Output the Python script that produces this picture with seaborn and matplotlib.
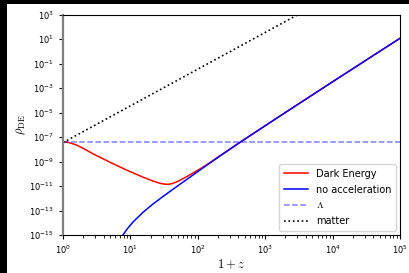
import numpy as np
import pandas as pd
import matplotlib
matplotlib.use("Agg")
import matplotlib.pyplot as plt
import seaborn as sns
from matplotlib.patches import Rectangle

plt.rcParams['mathtext.fontset'] = 'cm'
plt.rcParams['font.family'] = ['DejaVu Sans']

# -------------------------------
# values, as log10(1+z) and log10(rho)
# -------------------------------
de_logx = [0.0, 0.05, 0.12, 0.20, 0.30, 0.45, 0.70, 0.94, 1.19, 1.35, 1.43, 1.50, 1.56, 1.62, 1.70,
           1.83, 1.93, 2.03, 2.15, 2.32, 2.62, 3.0, 3.5, 4.0, 4.5, 5.01]
de_logy = [-7.37, -7.40, -7.50, -7.65, -7.92, -8.38, -9.06, -9.69, -10.28, -10.62, -10.76, -10.84, -10.86,
           -10.80, -10.63, -10.25, -9.93, -9.61, -9.20, -8.56, -7.45, -6.07, -4.27, -2.48, -0.70, 1.11]

noacc_logx = [0.89, 0.95, 1.04, 1.19, 1.33, 1.48, 1.63, 1.78, 2.03, 2.15, 2.32, 2.62, 3.0, 3.5, 4.0, 4.5, 5.01]
noacc_logy = [-15.0, -14.52, -13.93, -13.13, -12.49, -11.87, -11.27, -10.68, -9.70, -9.23, -8.58, -7.45,
              -6.07, -4.27, -2.48, -0.70, 1.11]

lambda_logx = [0.0, 5.0]
lambda_logy = [-7.37, -7.37]

matter_logx = [0.0, 3.6]
matter_logy = [-7.45, 3.35]

# -------------------------------
# build tidy frame
# -------------------------------
def series(lx, ly, name):
    return pd.DataFrame({'x': 10.0 ** np.array(lx), 'rho': 10.0 ** np.array(ly), 'label': name})

de = series(de_logx, de_logy, 'Dark Energy')
noacc = series(noacc_logx, noacc_logy, 'no acceleration')
lam = series(lambda_logx, lambda_logy, r'$\Lambda$')
mat = series(matter_logx, matter_logy, 'matter')

# -------------------------------
# plot
# -------------------------------
fig = plt.figure(figsize=(4.10, 2.73), dpi=100)
fig.patch.set_facecolor('black')
fig.patches.append(Rectangle((7 / 410, 0), 1, (273 - 4) / 273, transform=fig.transFigure,
                             facecolor='white', edgecolor='none', zorder=-10))
ax = fig.add_axes([63 / 410, 1 - 235 / 273, (400 - 63) / 410, (235 - 14.7) / 273])

sns.lineplot(data=de, x='x', y='rho', ax=ax, color='red', lw=1.1, label='Dark Energy', sort=False)
sns.lineplot(data=noacc, x='x', y='rho', ax=ax, color='blue', lw=1.1, label='no acceleration', sort=False)
sns.lineplot(data=lam, x='x', y='rho', ax=ax, color='blue', alpha=0.5, lw=1.1, ls='--', label=r'$\Lambda$', sort=False)
sns.lineplot(data=mat, x='x', y='rho', ax=ax, color='black', lw=1.2, ls=':', label='matter', sort=False)

ax.set_xscale('log')
ax.set_yscale('log')
ax.set_xlim(1, 1e5)
ax.set_ylim(1e-15, 1e3)
ax.set_yticks([10.0 ** k for k in range(-15, 4, 2)])
ax.yaxis.set_minor_locator(matplotlib.ticker.NullLocator())
ax.tick_params(labelsize=6, length=3, width=0.8)
ax.tick_params(which='minor', length=1.8, width=0.6)

ax.set_xlabel(r'$1+z$', fontsize=9, labelpad=1)
ax.set_ylabel(r'$\rho_{\rm DE}$', fontsize=9, labelpad=1)

ax.spines['left'].set_color('#808080')
ax.spines['left'].set_linewidth(1.6)

ax.legend(loc='lower right', fontsize=7, handlelength=2.5, labelspacing=0.6,
          borderpad=0.5, borderaxespad=0.4)

plt.savefig('out.png', dpi=100, facecolor=fig.get_facecolor())
